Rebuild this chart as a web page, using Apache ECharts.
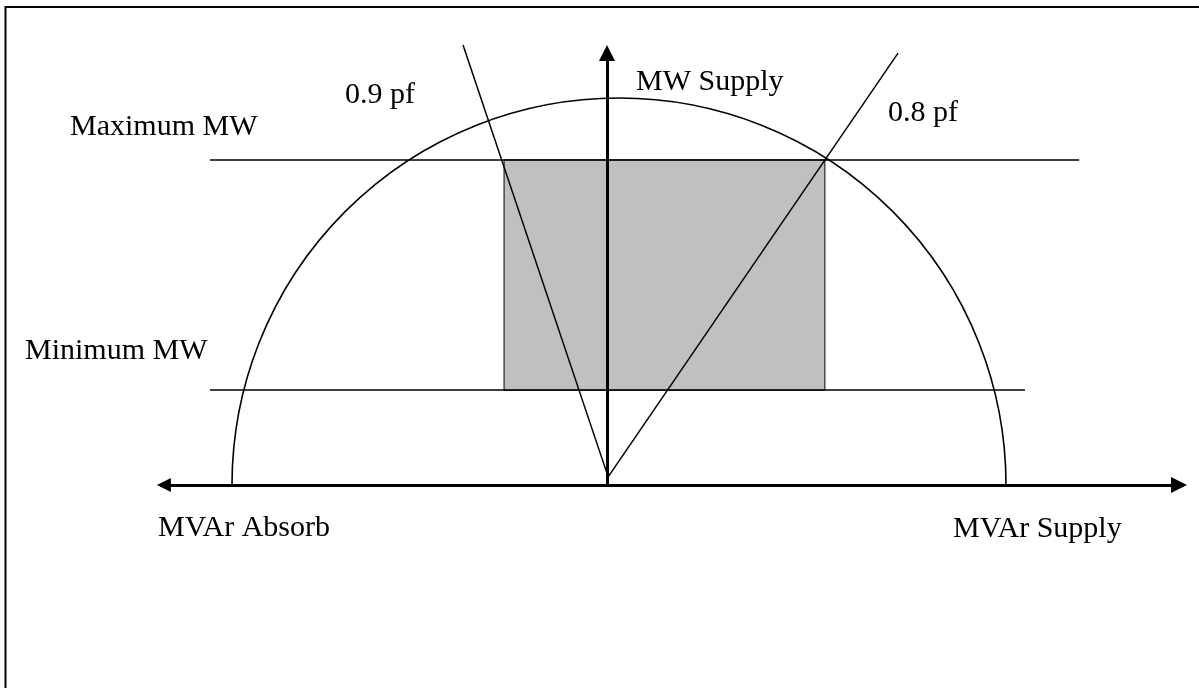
<!DOCTYPE html>
<html>
<head>
<meta charset="utf-8">
<title>Capability chart</title>
<script src="https://cdn.jsdelivr.net/npm/echarts/dist/echarts.min.js"></script>
<style>
  html, body { margin: 0; padding: 0; background: #fff; }
  #chart { width: 1199px; height: 688px; }
</style>
</head>
<body>
<div id="chart"></div>
<script>
// values in per unit of the MVA rating
const mvarAxis = [-1.145, 1.478]
const mwAxis = [0, 1.116]
const capabilityCircle = [0.031, 0, 1.0] // centre x, centre y, radius
const maxMW = 0.840
const minMW = 0.245
const maxMWSpan = [-1.026, 1.220]
const minMWSpan = [-1.026, 1.080]
const operatingBox = [-0.266, minMW, 0.563, maxMW]
const pfOrigin = [0.003, 0.021]
const pf09End = [-0.372, 1.137]
const pf08End = [0.752, 1.116]

// pixels per unit and where 0,0 sits on the page
const scale = 387
const zeroX = 607
const zeroY = 485
const pageW = 1199
const pageH = 688

const xMin = -zeroX / scale
const xMax = xMin + pageW / scale
const yMax = zeroY / scale
const yMin = yMax - pageH / scale

const font = '30px "Liberation Serif", "Times New Roman", serif'

function label(text, x, y) {
  return {
    type: 'text',
    left: x,
    top: y,
    silent: true,
    style: { text: text, font: font, fill: '#000' }
  }
}

let chart = echarts.init(document.getElementById('chart'))
chart.setOption({
  animation: false,
  backgroundColor: '#fff',
  grid: {
    left: 0,
    top: 0,
    width: pageW,
    height: pageH,
    outerBoundsMode: 'none'
  },
  xAxis: { type: 'value', min: xMin, max: xMax, show: false },
  yAxis: { type: 'value', min: yMin, max: yMax, show: false },
  graphic: [
    {
      type: 'polyline',
      silent: true,
      shape: { points: [[5.5, pageH], [5.5, 7], [pageW, 7]] },
      style: { stroke: '#000', lineWidth: 2, fill: null }
    },
    label('Maximum MW', 70, 112),
    label('Minimum MW', 25, 336),
    label('0.9 pf', 345, 80),
    label('MW Supply', 636, 67),
    label('0.8 pf', 888, 98),
    label('MVAr Absorb', 158, 513),
    label('MVAr Supply', 953, 514)
  ],
  series: [
    {
      type: 'custom',
      silent: true,
      data: [operatingBox],
      renderItem: function (params, api) {
        let p0 = api.coord([api.value(0), api.value(3)])
        let p1 = api.coord([api.value(2), api.value(1)])
        return {
          type: 'rect',
          shape: { x: p0[0], y: p0[1], width: p1[0] - p0[0], height: p1[1] - p0[1] },
          style: { fill: '#c0c0c0', stroke: '#000', lineWidth: 1 }
        }
      }
    },
    {
      type: 'custom',
      silent: true,
      data: [capabilityCircle],
      renderItem: function (params, api) {
        let c = api.coord([api.value(0), api.value(1)])
        let r = api.size([api.value(2), 0])[0]
        return {
          type: 'arc',
          shape: { cx: c[0], cy: c[1], r: r, startAngle: Math.PI, endAngle: Math.PI * 2, clockwise: true },
          style: { stroke: '#000', fill: null, lineWidth: 1.6 }
        }
      }
    },
    {
      type: 'lines',
      coordinateSystem: 'cartesian2d',
      silent: true,
      symbol: 'none',
      lineStyle: { color: '#000', width: 1.5, opacity: 1 },
      data: [
        { coords: [[maxMWSpan[0], maxMW], [maxMWSpan[1], maxMW]] },
        { coords: [[minMWSpan[0], minMW], [minMWSpan[1], minMW]] },
        { coords: [pfOrigin, pf09End] },
        { coords: [pfOrigin, pf08End] }
      ]
    },
    {
      type: 'lines',
      coordinateSystem: 'cartesian2d',
      silent: true,
      symbol: ['triangle', 'triangle'],
      symbolSize: [14, 16],
      lineStyle: { color: '#000', width: 3, opacity: 1 },
      data: [
        { coords: [[mvarAxis[0], 0], [mvarAxis[1], 0]] }
      ]
    },
    {
      type: 'lines',
      coordinateSystem: 'cartesian2d',
      silent: true,
      symbol: ['none', 'triangle'],
      symbolSize: [15, 16],
      lineStyle: { color: '#000', width: 3, opacity: 1 },
      data: [
        { coords: [[0, mwAxis[0]], [0, mwAxis[1]]] }
      ]
    }
  ]
})
window.addEventListener('resize', () => {
  chart.resize()
})
</script>
</body>
</html>
